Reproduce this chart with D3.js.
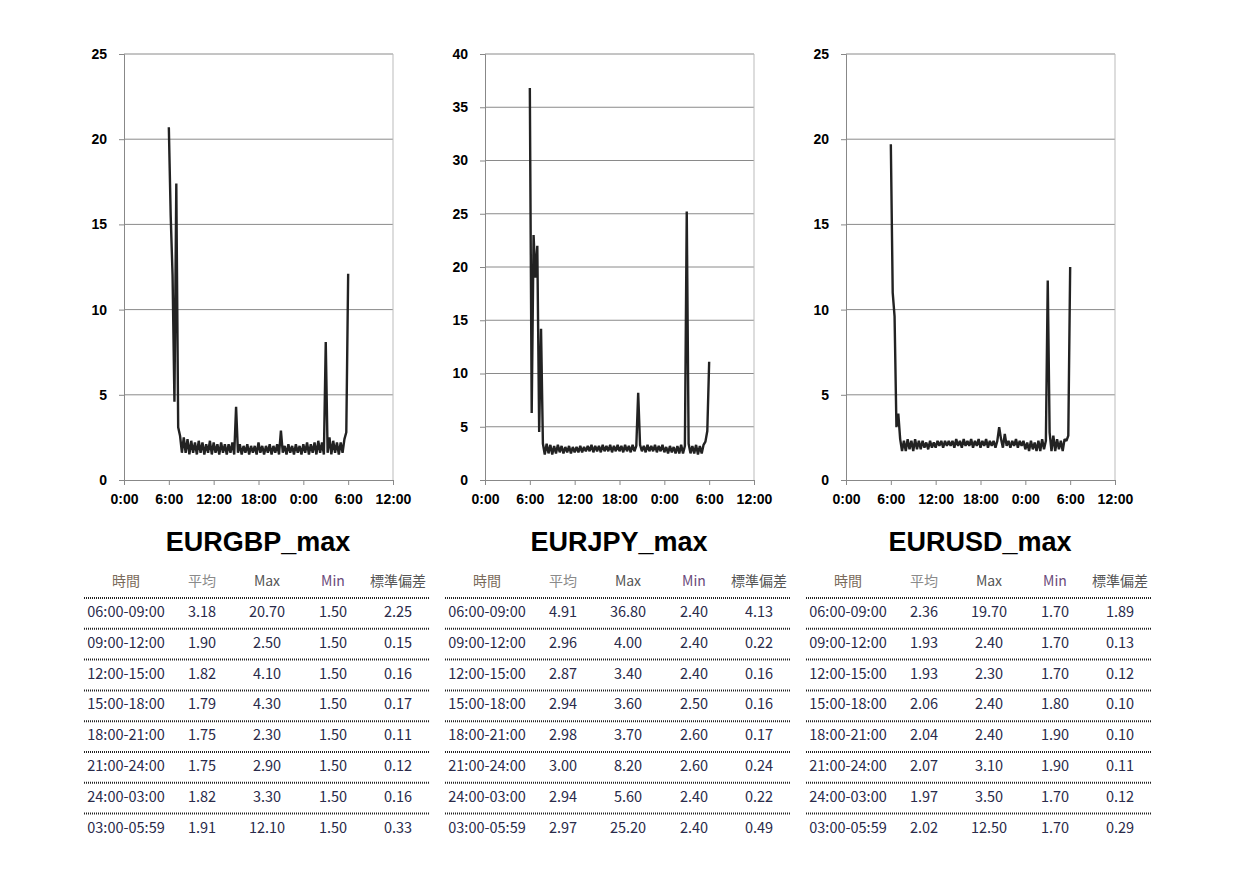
<!DOCTYPE html>
<html><head><meta charset="utf-8">
<script src="https://cdn.jsdelivr.net/npm/d3@7"></script>
<style>body{margin:0;background:#fff}</style>
</head><body><div id="home"></div>
<script>
// series: one value every 15 minutes from 6:00 to 6:00 next day (hours 6..30)
var gbpValues = [20.7,15.5,12.0,4.6,17.4,3.1,2.6,1.6, 2.5,1.6,2.4,1.5,2.3,1.6,2.2,1.5,
	2.3,1.6,2.2,1.5,2.1,1.6,2.3,1.5, 2.2,1.6,2.1,1.5,2.2,1.6,2.1,1.5,
	2.1,1.6,2.2,1.5,4.3,1.6,2.1,1.5, 2.0,1.6,2.1,1.5,2.0,1.6,2.0,1.5,
	2.2,1.6,2.0,1.5,2.0,1.6,2.1,1.5, 2.0,1.6,2.1,1.5,2.9,1.6,2.0,1.5,
	2.1,1.6,2.0,1.5,2.1,1.6,2.0,1.5, 2.1,1.6,2.2,1.5,2.1,1.6,2.2,1.5,
	2.3,1.6,2.2,1.5,8.1,1.6,2.5,1.5, 2.3,1.6,2.2,1.5,2.2,1.6,2.4,2.8, 12.1];
var jpyValues = [36.8,6.3,23.0,19.0,22.0,4.5,14.2,3.4, 2.4,3.4,2.5,3.3,2.4,3.2,2.5,3.3,
	2.6,3.2,2.5,3.1,2.6,3.2,2.5,3.1, 2.6,3.1,2.6,3.2,2.6,3.1,2.7,3.2,
	2.7,3.3,2.6,3.2,2.7,3.2,2.6,3.3, 2.7,3.2,2.7,3.3,2.6,3.2,2.7,3.3,
	2.7,3.2,2.6,3.3,2.7,3.2,2.6,3.3, 2.7,3.2,8.2,3.3,2.7,3.2,2.6,3.3,
	2.7,3.2,2.7,3.3,2.6,3.2,2.7,3.3, 2.6,3.1,2.5,3.2,2.6,3.1,2.5,3.2,
	2.5,3.3,2.5,3.2,25.2,3.4,2.5,3.2, 2.5,3.3,2.4,3.2,2.5,3.3,3.6,4.6, 11.1];
var usdValues = [19.7,11.0,9.6,3.1,3.9,2.4,1.7,2.3, 1.7,2.4,1.8,2.3,1.7,2.4,1.8,2.3,
	1.8,2.3,1.9,2.2,1.8,2.3,1.9,2.2, 1.9,2.3,2.0,2.3,1.9,2.3,2.0,2.3,
	2.0,2.3,1.9,2.4,2.0,2.3,1.9,2.4, 2.0,2.3,2.0,2.4,1.9,2.3,2.0,2.4,
	1.9,2.3,2.0,2.4,1.9,2.3,2.0,2.3, 1.9,2.3,3.1,2.4,1.9,2.7,2.0,2.3,
	1.9,2.3,2.0,2.4,1.9,2.3,2.0,2.3, 1.8,2.2,1.7,2.3,1.8,2.2,1.7,2.3,
	1.7,2.4,1.8,2.3,11.7,2.8,1.7,2.6, 1.7,2.4,1.8,2.3,1.7,2.4,2.3,2.6, 12.5];

var titles = ['EURGBP_max', 'EURJPY_max', 'EURUSD_max'];
var yMaxes = [25, 40, 25];
var xTickLabels = ['0:00','6:00','12:00','18:00','0:00','6:00','12:00'];

var headers = ['時間','平均','Max','Min','標準偏差'];
var periods = ['06:00-09:00','09:00-12:00','12:00-15:00','15:00-18:00','18:00-21:00','21:00-24:00','24:00-03:00','03:00-05:59'];
var gbpStats = [[3.18,20.70,1.50,2.25],[1.90,2.50,1.50,0.15],[1.82,4.10,1.50,0.16],[1.79,4.30,1.50,0.17],[1.75,2.30,1.50,0.11],[1.75,2.90,1.50,0.12],[1.82,3.30,1.50,0.16],[1.91,12.10,1.50,0.33]];
var jpyStats = [[4.91,36.80,2.40,4.13],[2.96,4.00,2.40,0.22],[2.87,3.40,2.40,0.16],[2.94,3.60,2.50,0.16],[2.98,3.70,2.60,0.17],[3.00,8.20,2.60,0.24],[2.94,5.60,2.40,0.22],[2.97,25.20,2.40,0.49]];
var usdStats = [[2.36,19.70,1.70,1.89],[1.93,2.40,1.70,0.13],[1.93,2.30,1.70,0.12],[2.06,2.40,1.80,0.10],[2.04,2.40,1.90,0.10],[2.07,3.10,1.90,0.11],[1.97,3.50,1.70,0.12],[2.02,12.50,1.70,0.29]];

var seriesList = [gbpValues, jpyValues, usdValues];
var statsList = [gbpStats, jpyStats, usdStats];

var svg = d3.select('#home').append('svg').attr('width', 1249).attr('height', 883)
	.style('font-family', 'Arial, "Liberation Sans", sans-serif');

var plotLefts = [124, 485, 846], plotW = 269, plotTop = 54, plotBottom = 480;
var headColors = ['#7a6a5a', '#8a8a8a', '#555', '#6a4a7a', '#555'];
var colX = [42, 118, 183, 249, 314];

seriesList.forEach(function(values, k) {
	var g = svg.append('g').attr('transform', 'translate(' + plotLefts[k] + ',0)');
	var x = d3.scaleLinear().domain([0, 36]).range([0, plotW]);
	var y = d3.scaleLinear().domain([0, yMaxes[k]]).range([plotBottom, plotTop]);
	var yTicks = d3.range(0, yMaxes[k] + 1, 5);

	g.selectAll('.grid').data(yTicks.slice(1)).enter().append('line')
		.attr('x1', 0).attr('x2', plotW).attr('y1', y).attr('y2', y)
		.attr('stroke', '#8a8a8a').attr('stroke-width', 1);
	g.append('line').attr('x1', plotW).attr('x2', plotW).attr('y1', plotTop).attr('y2', plotBottom)
		.attr('stroke', '#bbb');

	var yAxis = g.append('g').call(d3.axisLeft(y).tickValues(yTicks).tickSize(5).tickPadding(12));
	var xAxis = g.append('g').attr('transform', 'translate(0,' + plotBottom + ')')
		.call(d3.axisBottom(x).tickValues(d3.range(0, 37, 6)).tickSize(5).tickPadding(9)
			.tickFormat(function(d, i) { return xTickLabels[i]; }));
	[yAxis, xAxis].forEach(function(a) {
		a.select('.domain').attr('stroke', '#888');
		a.selectAll('.tick line').attr('stroke', '#888');
		a.selectAll('text').attr('font-size', 14).attr('font-weight', 'bold').attr('fill', '#000');
	});

	var line = d3.line().x(function(d, i) { return x(6 + i * 0.25); }).y(function(d) { return y(d); });
	g.append('path').datum(values).attr('d', line).attr('fill', 'none')
		.attr('stroke', '#222').attr('stroke-width', 2.4).attr('stroke-linejoin', 'bevel');

	svg.append('text').attr('x', plotLefts[k] + 134).attr('y', 551).attr('text-anchor', 'middle')
		.attr('font-size', 27).attr('font-weight', 'bold').text(titles[k]);

	// table
	var t = svg.append('g').attr('transform', 'translate(' + (84 + k * 361) + ',0)')
		.style('font-family', '"Noto Sans CJK JP", "Noto Sans", sans-serif');
	t.selectAll('.h').data(headers).enter().append('text')
		.attr('x', function(d, i) { return colX[i]; }).attr('y', 586).attr('text-anchor', 'middle')
		.attr('font-size', 14).attr('fill', function(d, i) { return headColors[i]; }).text(function(d) { return d; });
	periods.forEach(function(p, r) {
		var ry = 617 + r * 30.8;
		t.append('line').attr('x1', 0).attr('x2', 346).attr('y1', ry - 19).attr('y2', ry - 19)
			.attr('stroke', '#222').attr('stroke-width', 2).attr('stroke-dasharray', '1,1');
		var cells = [p].concat(statsList[k][r].map(function(v) { return v.toFixed(2); }));
		t.selectAll('.r' + r).data(cells).enter().append('text')
			.attr('x', function(d, i) { return colX[i]; }).attr('y', ry).attr('text-anchor', 'middle')
			.attr('font-size', 14.5).attr('fill', '#2a2a4a').text(function(d) { return d; });
	});
});
</script></body></html>
